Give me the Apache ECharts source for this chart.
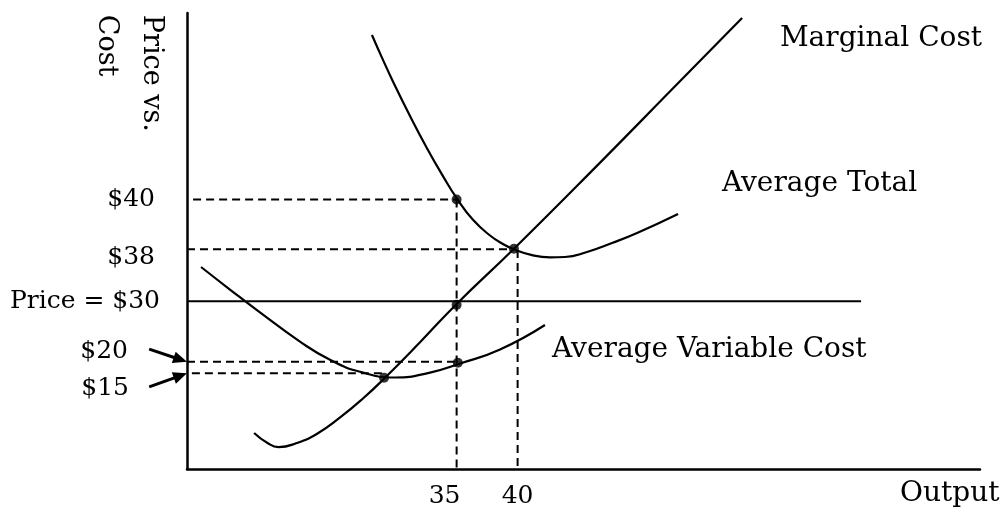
<!DOCTYPE html>
<html><head><meta charset="utf-8">
<script src="https://cdn.jsdelivr.net/npm/echarts@6/dist/echarts.min.js"></script>
<style>html,body{margin:0;padding:0;background:#fff}#c{width:1006px;height:510px}</style>
</head><body><div id="c"></div>
<script>
// ---- data (schematic diagram: x = output, y = schematic height of cost levels) ----
const outputTicks = [35, 40];
const priceLabels = ['$40', '$38', 'Price = $30', '$20', '$15'];
const priceLevels = [59.1, 48.2, 36.8, 23.5, 21.0];
const marginalCost = [[18.4,7.9],[19.5,5.7],[20.4,4.8],[21.9,5.7],[23.6,7.8],[25.4,11.2],[27.3,15.4],[29.05,19.8],[32.0,27.8],[35.0,36.2],[39.7,48.3],[46.8,67.3],[52.6,83.1],[58.4,98.9]];
const averageTotal = [[28.06,95.18],[28.88,90.22],[29.78,85.0],[31.18,77.41],[32.57,70.35],[33.88,64.23],[35.03,59.3],[36.34,54.65],[37.74,51.21],[38.8,49.34],[39.7,48.18],[41.18,46.91],[42.65,46.43],[43.88,46.49],[45.69,47.59],[47.74,49.56],[49.79,51.75],[53.15,55.92]];
const averageVariable = [[14.05,44.3],[16.42,39.36],[18.88,34.34],[22.16,27.94],[24.62,23.95],[27.08,21.32],[29.95,20.07],[32.82,21.14],[35.28,23.14],[38.56,26.21],[42.24,31.58]];
const keyPoints = [[35.0,59.1],[39.7,48.3],[35.0,36.0],[35.1,23.3],[29.05,20.0]];
const priceLine = [[12.9,36.8],[68.15,36.8]];
const guideLines = [
  [[13.4,59.1],[35,59.1]],
  [[12.9,48.2],[39.7,48.2]],
  [[12.9,23.5],[35,23.5]],
  [[13.3,21.0],[29.05,21.0]],
  [[35,59.1],[35,0]],
  [[40,48.0],[40,0]]
];
const curveNames = ['Marginal Cost', 'Average Total', 'Average Variable Cost'];
const curveNameAnchors = [[61.5,94.3],[56.75,62.5],[42.82,26.1]];
const axisTitleY = 'Price vs.\nCost';
const axisTitleYAnchor = [11.8, 99.6];
const axisTitleX = 'Output';
const axisTitleXAnchor = [71.34, -5.5];
const arrowFrom = [[9.8,26.3],[9.8,18.0]];
const arrowTo = [[12.9,23.5],[12.9,21.0]];
const xRange = [12.9, 77.9];
const yRange = [0, 100];

const FONT = '"DejaVu Serif", "Liberation Serif", serif';
const chart = echarts.init(document.getElementById('c'), null, {renderer: 'canvas'});

const labelRich = {
  s0: {padding: [0, 5, 0, 0]},
  s1: {padding: [16, 5, 0, 0]},
  s2: {padding: [0, 0, 0, 0]},
  s3: {padding: [0, 32, 20, 0]},
  s4: {padding: [30, 31, 0, 0]}
};
Object.values(labelRich).forEach(r => { r.fontSize = 25; r.fontFamily = FONT; r.color = '#000'; });

const curveStyle = {color: '#000', width: 2.2};
const series = [
  {type: 'line', name: curveNames[0], data: marginalCost, smooth: 0.5, symbol: 'none', lineStyle: curveStyle},
  {type: 'line', name: curveNames[1], data: averageTotal, smooth: 0.5, symbol: 'none', lineStyle: curveStyle},
  {type: 'line', name: curveNames[2], data: averageVariable, smooth: 0.5, symbol: 'none', lineStyle: curveStyle},
  {type: 'line', name: 'price', data: priceLine, symbol: 'none', lineStyle: {color: '#000', width: 2}}
];
guideLines.forEach((g, i) => series.push({
  type: 'line', name: 'guide' + i, data: g, symbol: 'none',
  lineStyle: {color: '#000', width: 2, type: [8, 5]}
}));
series.push({type: 'scatter', name: 'points', data: keyPoints, symbolSize: 10, itemStyle: {color: '#000'}, z: 5});

chart.setOption({
  animation: false,
  backgroundColor: '#fff',
  grid: {left: 187, right: 26, top: 13, bottom: 41, containLabel: false},
  xAxis: {
    type: 'value', min: xRange[0], max: xRange[1],
    axisLine: {show: true, lineStyle: {color: '#000', width: 2.5}},
    axisTick: {show: false}, splitLine: {show: false},
    axisLabel: {
      customValues: outputTicks, margin: 15,
      formatter: v => (v === outputTicks[0] ? '{a|' + v + '}' : '{b|' + v + '}'),
      rich: {
        a: {fontSize: 25, fontFamily: FONT, color: '#000', padding: [0, 24, 0, 0]},
        b: {fontSize: 25, fontFamily: FONT, color: '#000'}
      }
    }
  },
  yAxis: {
    type: 'value', min: yRange[0], max: yRange[1],
    axisLine: {show: true, lineStyle: {color: '#000', width: 2.5}},
    axisTick: {show: false}, splitLine: {show: false},
    axisLabel: {
      customValues: priceLevels, margin: 27,
      formatter: v => { const i = priceLevels.indexOf(v); return i < 0 ? '' : '{s' + i + '|' + priceLabels[i] + '}'; },
      rich: labelRich
    }
  },
  series: series
});

function px(p) { return chart.convertToPixel({gridIndex: 0}, p); }
const graphics = [];
curveNames.forEach((name, i) => {
  const p = px(curveNameAnchors[i]);
  graphics.push({type: 'text', x: p[0], y: p[1], style: {text: name, font: '28px ' + FONT, fill: '#000', textAlign: 'left', textVerticalAlign: 'middle'}});
});
{
  const p = px(axisTitleXAnchor);
  graphics.push({type: 'text', x: p[0], y: p[1], style: {text: axisTitleX, font: '28px ' + FONT, fill: '#000', textAlign: 'left', textVerticalAlign: 'middle'}});
  const q = px(axisTitleYAnchor);
  graphics.push({type: 'text', x: q[0], y: q[1], rotation: -Math.PI / 2, style: {text: axisTitleY, font: '27px ' + FONT, fill: '#000', textAlign: 'left', textVerticalAlign: 'top', lineHeight: 45}});
}
arrowFrom.forEach((f, i) => {
  const a = px(f), b = px(arrowTo[i]);
  const dx = b[0] - a[0], dy = b[1] - a[1], L = Math.hypot(dx, dy);
  const ux = dx / L, uy = dy / L, nx = -uy, ny = ux;
  const head = 14, hw = 6;
  const bx = b[0] - ux * head, by = b[1] - uy * head;
  graphics.push({type: 'line', shape: {x1: a[0], y1: a[1], x2: bx + ux * 2, y2: by + uy * 2}, style: {stroke: '#000', lineWidth: 3}});
  graphics.push({type: 'polygon', shape: {points: [[b[0], b[1]], [bx + nx * hw, by + ny * hw], [bx - nx * hw, by - ny * hw]]}, style: {fill: '#000'}});
});
chart.setOption({graphic: graphics});
</script>
</body></html>
